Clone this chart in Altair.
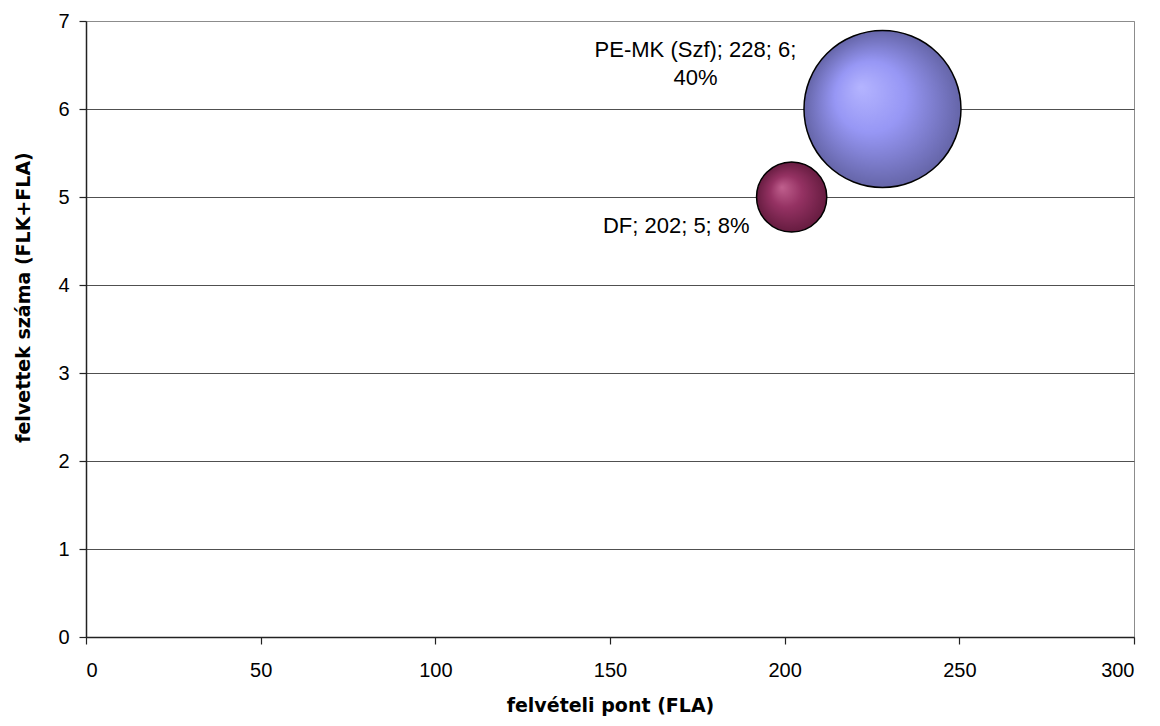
import altair as alt
import pandas as pd

# --- data ---
names = ["PE-MK (Szf)", "DF"]
fla_points = [228, 202]          # felvételi pont (FLA)
admitted = [6, 5]                # felvettek száma (FLK+FLA)
share_pct = [40, 8]              # bubble size (%)
wrap_label = [True, False]       # label wrapped onto two lines in the original

x_ticks = [0, 50, 100, 150, 200, 250, 300]
y_ticks = [0, 1, 2, 3, 4, 5, 6, 7]

labels = []
for n, xv, yv, p, w in zip(names, fla_points, admitted, share_pct, wrap_label):
    sep = "\n" if w else " "
    labels.append(f"{n}; {xv}; {yv};{sep}{p}%")

df = pd.DataFrame({"name": names, "fla": fla_points, "n": admitted,
                   "pct": share_pct, "label": labels})

FONT = "Liberation Sans"
TFONT = "DejaVu Sans"

x_enc = alt.X("fla:Q", scale=alt.Scale(domain=[0, 300], nice=False, zero=True),
              axis=alt.Axis(values=x_ticks, title="felvételi pont (FLA)", grid=False,
                            labelPadding=16, titlePadding=16))
y_enc = alt.Y("n:Q", scale=alt.Scale(domain=[0, 7], nice=False, zero=True),
              axis=alt.Axis(values=y_ticks, title="felvettek száma (FLK+FLA)", grid=True,
                            gridColor={"condition": {"test": "datum.value === 7", "value": "#8c8c8c"},
                                       "value": "#505050"},
                            labelPadding=10, titlePadding=24, titleY=276))
size_enc = alt.Size("pct:Q", scale=alt.Scale(domain=[0, 40], range=[0, 24650], zero=True), legend=None)


def grad(c0, c1, c2):
    return alt.Gradient(gradient="radial", x1=0.36, y1=0.36, r1=0.0, x2=0.5, y2=0.5, r2=0.5,
                        stops=[alt.GradientStop(offset=0.0, color=c0),
                               alt.GradientStop(offset=0.45, color=c1),
                               alt.GradientStop(offset=1.0, color=c2)])


base = alt.Chart(df)

bubble_blue = base.transform_filter(alt.datum.name == "PE-MK (Szf)").mark_circle(
    fill=grad("#b4b4ff", "#9797f5", "#6565a8"), stroke="#000000", strokeWidth=1.5, opacity=1
).encode(x=x_enc, y=y_enc, size=size_enc)

bubble_red = base.transform_filter(alt.datum.name == "DF").mark_circle(
    fill=grad("#c0608e", "#953263", "#661c40"), stroke="#000000", strokeWidth=1.5, opacity=1
).encode(x=x_enc, y=y_enc, size=size_enc)

text_blue = base.transform_filter(alt.datum.name == "PE-MK (Szf)").mark_text(
    font=FONT, fontSize=22, color="#000000", align="center", baseline="alphabetic",
    lineBreak="\n", lineHeight=28, dx=-187, dy=-52
).encode(x=x_enc, y=y_enc, text="label:N")

text_red = base.transform_filter(alt.datum.name == "DF").mark_text(
    font=FONT, fontSize=22, color="#000000", align="right", baseline="alphabetic",
    dx=-42, dy=36
).encode(x=x_enc, y=y_enc, text="label:N")

chart = alt.layer(bubble_blue, bubble_red, text_blue, text_red).properties(
    width=1048, height=616,
    autosize="none",
    background="white",
    padding={"left": 78, "top": 13, "right": 10, "bottom": 81},
).configure_view(
    stroke="#8c8c8c", strokeWidth=1
).configure_axis(
    labelFont=FONT, labelFontSize=20, labelColor="#000000",
    titleFont=TFONT, titleFontSize=19, titleFontWeight="bold", titleColor="#000000",
    domainColor="#222222", domainWidth=1.5, tickColor="#222222", tickSize=7, tickWidth=1.2,
)

chart.save("out.html", embed_options={"renderer": "svg", "actions": False})
